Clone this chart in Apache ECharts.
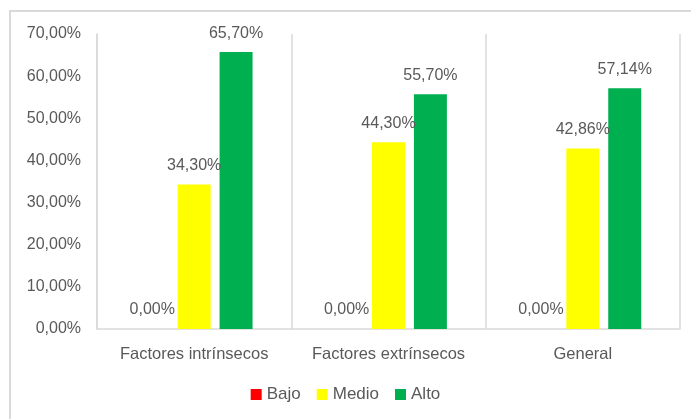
<!DOCTYPE html>
<html>
<head>
<meta charset="utf-8">
<script src="https://cdn.jsdelivr.net/npm/echarts@6/dist/echarts.min.js"></script>
<style>
html,body{margin:0;padding:0;background:#fff;}
#chart{width:691px;height:419px;}
</style>
</head>
<body>
<div id="chart"></div>
<script>
const categories = ['Factores intrínsecos', 'Factores extrínsecos', 'General'];
const seriesNames = ['Bajo', 'Medio', 'Alto'];
const bajo = [0, 0, 0];
const medio = [34.30, 44.30, 42.86];
const alto = [65.70, 55.70, 57.14];
const colors = ['#FF0000', '#FFFF00', '#00B050'];
const yTicks = [0, 10, 20, 30, 40, 50, 60, 70];

const fmt = v => Number(v).toFixed(2).replace('.', ',') + '%';
const font = 'Liberation Sans';
const textColor = '#595959';

const chart = echarts.init(document.getElementById('chart'));
const dataSets = [bajo, medio, alto];
chart.setOption({
  animation: false,
  textStyle: { fontFamily: font },
  graphic: [{
    type: 'rect',
    shape: { x: 10, y: 11, width: 700, height: 420 },
    style: { fill: 'none', stroke: '#d9d9d9', lineWidth: 2 },
    silent: true
  }],
  grid: { left: 97, right: 11, top: 34, bottom: 90 },
  legend: {
    bottom: 11,
    left: 'center',
    itemWidth: 11,
    itemHeight: 11,
    itemGap: 16,
    icon: 'rect',
    textStyle: { color: textColor, fontSize: 17, fontFamily: font },
    data: seriesNames
  },
  xAxis: {
    type: 'category',
    data: categories,
    axisLine: { show: true, lineStyle: { color: '#d9d9d9', width: 1.5 } },
    axisTick: { show: false },
    splitLine: { show: true, interval: 0, lineStyle: { color: '#d9d9d9', width: 1.5 } },
    axisLabel: { color: textColor, fontSize: 16.5, margin: 17, interval: 0, hideOverlap: false, fontFamily: font }
  },
  yAxis: {
    type: 'value',
    min: yTicks[0],
    max: yTicks[yTicks.length - 1],
    interval: 10,
    axisLine: { show: true, lineStyle: { color: '#d9d9d9', width: 1.5 } },
    axisTick: { show: false },
    splitLine: { show: false },
    axisLabel: { color: textColor, fontSize: 16, margin: 16, formatter: v => fmt(v), fontFamily: font }
  },
  series: seriesNames.map((name, i) => ({
    name: name,
    type: 'bar',
    data: dataSets[i],
    barWidth: 33,
    barGap: '27%',
    itemStyle: { color: colors[i] },
    label: {
      show: true,
      position: 'top',
      distance: 11,
      color: textColor,
      fontSize: 16,
      fontFamily: font,
      formatter: p => fmt(p.value)
    }
  }))
});
</script>
</body>
</html>
